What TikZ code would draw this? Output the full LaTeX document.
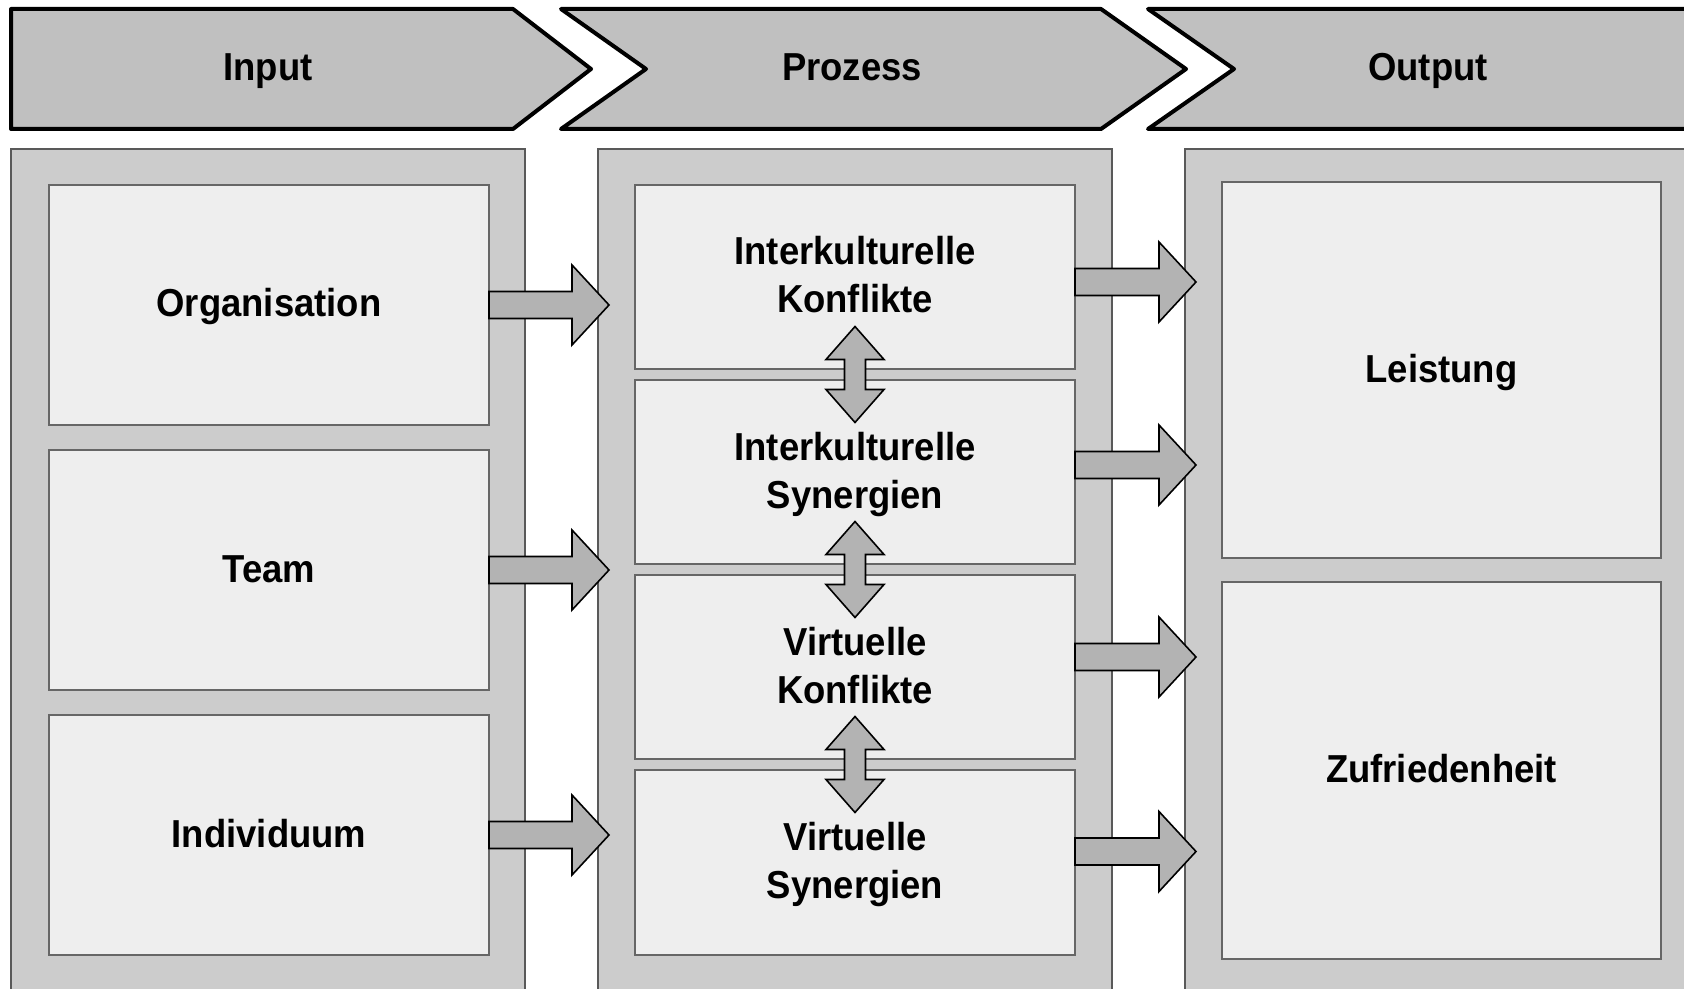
\documentclass[tikz,border=0pt]{standalone}
\usepackage{fontspec}
\setmainfont{Liberation Sans}[FakeStretch=0.935]
\usetikzlibrary{calc}
\definecolor{chev}{HTML}{C0C0C0}
\definecolor{panelc}{HTML}{CCCCCC}
\definecolor{innerc}{HTML}{EEEEEE}
\definecolor{arrc}{HTML}{B3B3B3}
\newcommand\lblfont{\bfseries\fontsize{19.5}{24}\selectfont}
\newcommand\rblock[3]{\draw[barrow] ([shift={(0,#3-13.5)}]#1) -- ++(#2-37,0) -- ++(0,-26.5) -- ++(37,40) -- ++(-37,40) -- ++(0,-26.5) -- ([shift={(0,#3+13.5)}]#1) -- cycle;}
\newcommand\dblock[1]{\draw[barrow] ([shift={(0,-48)}]#1) -- ++(29,33) -- ++(-18.5,0) -- ++(0,30) -- ++(18.5,0) -- ++(-29,33) -- ++(-29,-33) -- ++(18.5,0) -- ++(0,-30) -- ++(-18.5,0) -- cycle;}
\tikzset{
  chevron/.style={fill=chev, draw=black, line width=2pt, line join=round},
  panelbox/.style={fill=panelc, draw=black!65, line width=0.75pt, inner sep=0pt, outer sep=0pt, anchor=north west},
  innerbox/.style={fill=innerc, draw=black!60, line width=0.75pt, inner sep=0pt, outer sep=0pt, anchor=north west, align=center, font=\lblfont, text height=12pt, text depth=0pt},
  twoline/.style={text height=36pt},
  barrow/.style={fill=arrc, draw=black, line width=0.8pt, line join=miter},
  hdr/.style={font=\lblfont, inner sep=0pt, text height=14pt, text depth=0pt}
}
\begin{document}
\begin{tikzpicture}[x=0.5pt,y=-0.5pt]
\useasboundingbox (0,0) rectangle (1684,989);
\clip (0,0) rectangle (1684,989);
% chevrons
\draw[chevron] (11,9) -- (513,9) -- (591,69) -- (513,129) -- (11,129) -- cycle;
\draw[chevron] (561,9) -- (1101,9) -- (1186,69) -- (1101,129) -- (561,129) -- (646,69) -- cycle;
\draw[chevron] (1148,9) -- (1720,9) -- (1720,129) -- (1148,129) -- (1234,69) -- cycle;
\node[hdr] (hin) at (268,67) {Input};
\node[hdr] (hpr) at (852,67) {Prozess};
\node[hdr] (hout) at (1428,67) {Output};
% panels
\node[panelbox, minimum width=257pt, minimum height=440pt] (p1) at (11,149) {};
\node[panelbox, minimum width=257pt, minimum height=440pt] (p2) at (598,149) {};
\node[panelbox, minimum width=270pt, minimum height=440pt] (p3) at (1185,149) {};
% input boxes
\node[innerbox, minimum width=220pt, minimum height=120pt] (org) at (49,185) {Organisation};
\node[innerbox, minimum width=220pt, minimum height=120pt] (team) at (49,450) {Team};
\node[innerbox, minimum width=220pt, minimum height=120pt] (ind) at (49,715) {Individuum};
% process boxes
\node[innerbox, twoline, minimum width=220pt, minimum height=92pt] (k1) at (635,185) {Interkulturelle\\Konflikte};
\node[innerbox, twoline, minimum width=220pt, minimum height=92pt] (k2) at (635,380) {Interkulturelle\\Synergien};
\node[innerbox, twoline, minimum width=220pt, minimum height=92pt] (k3) at (635,575) {Virtuelle\\Konflikte};
\node[innerbox, twoline, minimum width=220pt, minimum height=92.5pt] (k4) at (635,770) {Virtuelle\\Synergien};
% output boxes
\node[innerbox, minimum width=219.5pt, minimum height=188pt] (leist) at (1222,182) {Leistung};
\node[innerbox, minimum width=219.5pt, minimum height=188.5pt] (zuf) at (1222,582) {Zufriedenheit};
% arrows input -> process
\rblock{org.east}{120}{0}
\rblock{team.east}{120}{0}
\rblock{ind.east}{120}{0}
% arrows process -> output
\rblock{k1.east}{121}{5}
\rblock{k2.east}{121}{-7}
\rblock{k3.east}{121}{-10}
\rblock{k4.east}{121}{-11}
% double arrows
\coordinate (m1) at ($(k1.south)!0.5!(k2.north)$);
\coordinate (m2) at ($(k2.south)!0.5!(k3.north)$);
\coordinate (m3) at ($(k3.south)!0.5!(k4.north)$);
\dblock{m1}
\dblock{m2}
\dblock{m3}
\end{tikzpicture}
\end{document}
